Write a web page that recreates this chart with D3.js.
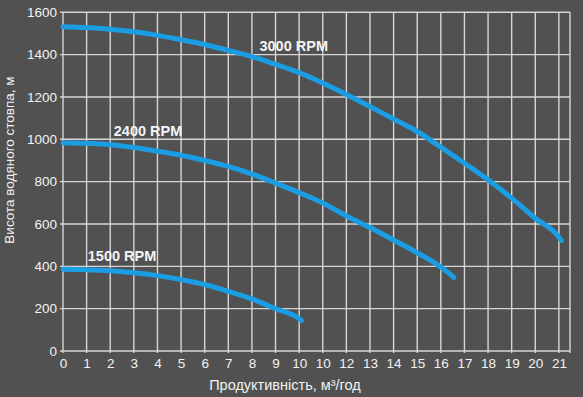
<!DOCTYPE html>
<html>
<head>
<meta charset="utf-8">
<script src="https://cdn.jsdelivr.net/npm/d3@7"></script>
<style>
  html, body { margin: 0; padding: 0; background: #515151; }
  svg { display: block; font-family: "Liberation Sans", Arial, sans-serif; }
</style>
</head>
<body>
<div id="chart"></div>
<script>
// Data
var flowTicks = d3.range(0, 22);
var flowTickLabels = ["0", "1", "2", "3", "4", "5", "6", "7", "8", "9", "10",
    "10", "12", "13", "14", "15", "16", "17", "18", "19", "20", "21"];
var headTicks = [0, 200, 400, 600, 800, 1000, 1200, 1400, 1600];

var rpm3000Flow = [0, 1, 2, 3, 4, 5, 6, 7, 8, 9, 10, 11, 12, 13, 14, 15, 16, 17, 18, 19, 20, 21, 21.1];
var rpm3000Head = [1532, 1528, 1520, 1508, 1491, 1470, 1448, 1420, 1391, 1354, 1315, 1266, 1212, 1155, 1096, 1037, 963, 887, 809, 722, 627, 538, 522];

var rpm2400Flow = [0, 1, 2, 3, 4, 5, 6, 7, 8, 9, 10, 11, 12, 13, 14, 15, 16, 16.55];
var rpm2400Head = [984, 981, 974, 961, 944, 925, 900, 872, 836, 793, 748, 699, 638, 583, 524, 464, 397, 348];

var rpm1500Flow = [0, 1, 2, 3, 4, 5, 6, 7, 8, 9, 10, 10.1];
var rpm1500Head = [386, 384, 379, 370, 356, 337, 314, 282, 246, 200, 153, 144];

var seriesLabels = ["3000 RPM", "2400 RPM", "1500 RPM"];

// Functions
function init() {
    var width = 583, height = 397;
    var margin = {top: 12, left: 63, right: 12, bottom: 46};

    var svg = d3.select("#chart")
        .append("svg")
        .attr("width", width)
        .attr("height", height);

    svg.append("rect")
        .attr("width", width)
        .attr("height", height)
        .attr("fill", "#515151");

    var x = d3.scaleLinear()
        .domain([0, 21.47])
        .range([margin.left, width - margin.right - 1]);

    var y = d3.scaleLinear()
        .domain([0, 1600])
        .range([height - margin.bottom, margin.top + 0.3]);

    // grid
    var grid = svg.append("g")
        .attr("stroke", "#d6d6d6")
        .attr("stroke-width", 1.4);

    grid.selectAll("line.h")
        .data(headTicks)
        .join("line")
        .attr("class", "h")
        .attr("x1", x(0) - 3)
        .attr("x2", x(21.47))
        .attr("y1", function(d) { return y(d); })
        .attr("y2", function(d) { return y(d); });

    grid.selectAll("line.v")
        .data(flowTicks.concat([21.47]))
        .join("line")
        .attr("class", "v")
        .attr("x1", function(d) { return x(d); })
        .attr("x2", function(d) { return x(d); })
        .attr("y1", y(0) + 2)
        .attr("y2", y(1600));

    // axes labels
    var yAxis = d3.axisLeft(y)
        .tickValues(headTicks)
        .tickSize(0)
        .tickPadding(6)
        .tickFormat(d3.format("d"));

    var xAxis = d3.axisBottom(x)
        .tickValues(flowTicks)
        .tickSize(0)
        .tickPadding(7)
        .tickFormat(function(d, i) { return flowTickLabels[i]; });

    var gy = svg.append("g")
        .attr("transform", "translate(" + x(0) + ",0)")
        .call(yAxis);

    var gx = svg.append("g")
        .attr("transform", "translate(0," + y(0) + ")")
        .call(xAxis);

    [gx, gy].forEach(function(g) {
        g.select(".domain").remove();
        g.selectAll("text")
            .attr("fill", "#f2f2f2")
            .attr("font-size", "13.5px")
            .attr("font-family", "'Liberation Sans', Arial, sans-serif");
    });

    // curves
    var line = d3.line()
        .x(function(d) { return x(d[0]); })
        .y(function(d) { return y(d[1]); })
        .curve(d3.curveMonotoneX);

    var series = [
        d3.zip(rpm3000Flow, rpm3000Head),
        d3.zip(rpm2400Flow, rpm2400Head),
        d3.zip(rpm1500Flow, rpm1500Head)
    ];

    svg.append("g").selectAll("path")
        .data(series)
        .join("path")
        .attr("d", line)
        .attr("fill", "none")
        .attr("stroke", "#1a9de3")
        .attr("stroke-width", 5)
        .attr("stroke-linecap", "round");

    // series labels
    var labelPos = [[9.77, 1415], [3.6, 1018], [2.5, 427]];
    svg.append("g").selectAll("text")
        .data(seriesLabels)
        .join("text")
        .attr("x", function(d, i) { return x(labelPos[i][0]); })
        .attr("y", function(d, i) { return y(labelPos[i][1]); })
        .attr("text-anchor", "middle")
        .attr("fill", "#f4f4f4")
        .attr("font-weight", "bold")
        .attr("font-size", "14.5px")
        .text(function(d) { return d; });

    // axis titles
    svg.append("text")
        .attr("x", 285)
        .attr("y", 390)
        .attr("text-anchor", "middle")
        .attr("fill", "#f2f2f2")
        .attr("font-size", "14.5px")
        .text("Продуктивність, м³/год");

    svg.append("text")
        .attr("transform", "translate(13.5,160) rotate(-90)")
        .attr("text-anchor", "middle")
        .attr("fill", "#f2f2f2")
        .attr("font-size", "13.5px")
        .text("Висота водяного стовпа, м");
}

init();
</script>
</body>
</html>
